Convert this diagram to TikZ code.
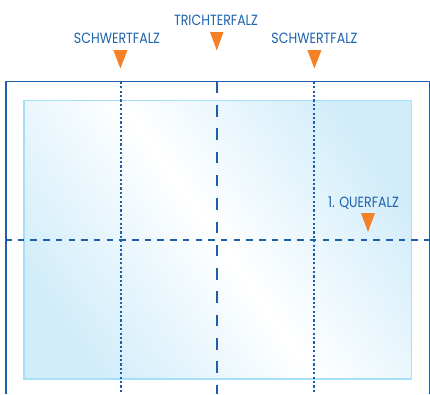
\documentclass[tikz,border=0pt]{standalone}
\usepackage{fontspec}
\setmainfont{Poppins}[FakeStretch=0.85]
\definecolor{frameblue}{HTML}{1F5EA8}
\definecolor{txtblue}{HTML}{1C62AC}
\definecolor{innerline}{HTML}{A6E0F8}
\definecolor{innerblue}{HTML}{D2EDFA}
\definecolor{foldorange}{HTML}{F58025}
\begin{document}
\begin{tikzpicture}[x=1pt,y=-1pt,
  lbl/.style={text=txtblue,font=\fontsize{14.8}{15}\selectfont,inner sep=0pt,anchor=base},
  tri/.style={fill=foldorange},
  dotfold/.style={frameblue,line width=2pt,dash pattern=on 2.2pt off 2.2pt},
  longfold/.style={frameblue,line width=2pt,dash pattern=on 11.5pt off 11.8pt},
  crossfold/.style={frameblue,line width=1.8pt,dash pattern=on 6.5pt off 6.2pt}]
\useasboundingbox (0,0) rectangle (430,394);
% sheet frame
\draw[frameblue,line width=1.3pt] (6,394) -- (6,81.7) -- (429.3,81.7) -- (429.3,394);
% inner panel
\shade[shading=axis,top color=innerblue,bottom color=innerblue,middle color=white,shading angle=-55]
  (24,100.7) rectangle (411.7,379);
\draw[innerline,line width=1.5pt] (24,100.7) rectangle (411.7,379);
% fold lines
\coordinate (l1) at (120.5,81.7); \coordinate (l2) at (120.5,394);
\coordinate (c1) at (216.8,81.7); \coordinate (c2) at (216.8,394);
\coordinate (r1) at (314.3,81.7); \coordinate (r2) at (314.3,394);
\coordinate (h1) at (6,239.7); \coordinate (h2) at (430,239.7);
\draw[dotfold] (l1) -- (l2);
\draw[dotfold] (r1) -- (r2);
\draw[longfold] (c1) -- (c2);
\draw[crossfold,dash phase=1pt] (h1) -- (h2);
% triangles
\fill[tri] (113.3,50) -- (127.5,50) -- (120.4,68.5) -- cycle;
\fill[tri] (210,32) -- (223.5,32) -- (216.8,50.5) -- cycle;
\fill[tri] (307.3,50) -- (321.5,50) -- (314.4,68.5) -- cycle;
\fill[tri] (361,213) -- (375,213) -- (368,232) -- cycle;
% labels
\node[lbl] (sl) at (117,43) {SCHWERTFALZ};
\node[lbl] (tr) at (216,25) {TRICHTERFALZ};
\node[lbl] (sr) at (314.5,43) {SCHWERTFALZ};
\node[lbl] (qf) at (363.5,207) {1. QUERFALZ};
\end{tikzpicture}
\end{document}
